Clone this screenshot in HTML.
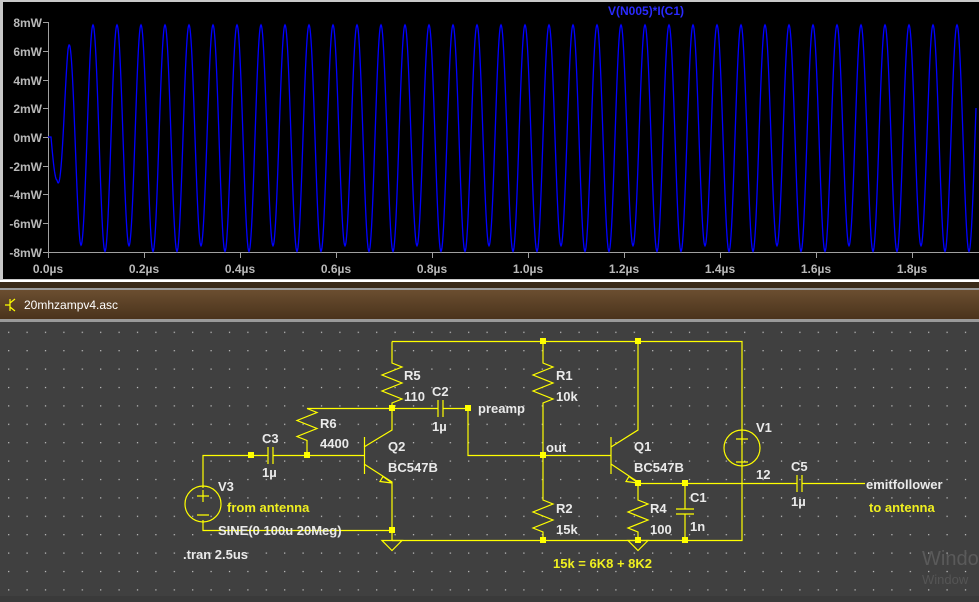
<!DOCTYPE html>
<html><head><meta charset="utf-8"><style>
html,body{margin:0;padding:0;width:979px;height:602px;overflow:hidden;background:#3c3c3c}
svg{display:block}
text{font-family:"Liberation Sans",Arial,sans-serif;font-weight:bold}
</style></head><body>
<svg width="979" height="602" viewBox="0 0 979 602" xmlns="http://www.w3.org/2000/svg">
<defs>
<pattern id="g" x="8.1" y="0.5" width="18.4" height="18.4" patternUnits="userSpaceOnUse">
<rect x="0" y="0" width="1.2" height="1.2" fill="#c8c8c8"/></pattern>
<linearGradient id="tb" x1="0" y1="0" x2="0" y2="1"><stop offset="0" stop-color="#6b4e30"/><stop offset="1" stop-color="#4a331c"/></linearGradient>
</defs>
<rect x="0" y="0" width="979" height="282" fill="#c8c8c8"/>
<rect x="3" y="2" width="976" height="277" fill="#000"/>
<rect x="0" y="280" width="979" height="2" fill="#fff"/>
<rect x="0" y="282" width="979" height="6" fill="#3a2a18"/>
<rect x="0" y="288" width="979" height="2" fill="#9a9a9a"/>
<rect x="0" y="290" width="979" height="29" fill="url(#tb)"/>
<rect x="0" y="319" width="979" height="3" fill="#9a9a9a"/>
<rect x="0" y="322" width="979" height="280" fill="#404040"/>
<rect x="0" y="322" width="979" height="280" fill="url(#g)"/>
<rect x="0" y="596" width="979" height="6" fill="#3a3a3a"/>
<g stroke="#a0a0a0" stroke-width="1" fill="none">
<path d="M48.5 22 V252.5 H979"/>
<path d="M43 22.5h5M43 51.5h5M43 80.5h5M43 108.5h5M43 137.5h5M43 166.5h5M43 194.5h5M43 223.5h5M43 252.5h5"/>
<path d="M48.5 252v6M144.5 252v6M240.5 252v6M336.5 252v6M432.5 252v6M528.5 252v6M624.5 252v6M720.5 252v6M816.5 252v6M912.5 252v6"/>
</g>
<g fill="#b8b8b8" font-size="12" text-anchor="end">
<text x="42" y="27">8mW</text><text x="42" y="56">6mW</text><text x="42" y="85">4mW</text><text x="42" y="113">2mW</text><text x="42" y="142">0mW</text><text x="42" y="171">-2mW</text><text x="42" y="199">-4mW</text><text x="42" y="228">-6mW</text><text x="42" y="257">-8mW</text>
</g>
<g fill="#b8b8b8" font-size="12" text-anchor="middle">
<text x="48" y="273">0.0µs</text><text x="144" y="273">0.2µs</text><text x="240" y="273">0.4µs</text><text x="336" y="273">0.6µs</text><text x="432" y="273">0.8µs</text><text x="528" y="273">1.0µs</text><text x="624" y="273">1.2µs</text><text x="720" y="273">1.4µs</text><text x="816" y="273">1.6µs</text><text x="912" y="273">1.8µs</text>
</g>
<text x="608" y="15" fill="#2a2aff" font-size="12">V(N005)*I(C1)</text>
<path id="wave" fill="none" stroke="#0000ff" stroke-width="1.3"/>
<text x="24" y="309" fill="#ffffff" font-size="12" style="font-weight:normal">20mhzampv4.asc</text>
<g stroke="#ffff00" stroke-width="1.2" fill="none"><path d="M10 299v12M10 303l5-4M10 307l5 4M5 305h5"/></g>
<g stroke="#ffff00" stroke-width="1.2" fill="none">
<path d="M392 341.5H742V540.5H392"/>
<path d="M392 341.5V363l10 4-20 8 20 8-20 8 20 8-10 4V408.5"/>
<path d="M307 408.5H438M443 408.5H468V455.5H543"/>
<path d="M438 400v17M443 400v17"/>
<path d="M307 408.5l10 4-20 8 20 8-20 8 10 4V455.5"/>
<path d="M203 488V455.5H268M273 455.5H364"/>
<path d="M268 447v17M273 447v17"/>
<circle cx="203" cy="504" r="18"/>
<path d="M197 496h12M203 490v12M197 515h12"/>
<path d="M203 520V530.5H392"/>
<path d="M364.5 437v37M364 447l28-17V408.5M364 464l28 18V540.5"/>
<path d="M392 483l-12-1.5 3-5z"/>
<path d="M382 540.5h20l-10 10z"/>
<path d="M543 341.5V363l10 4-20 8 20 8-20 8 20 8-10 4V500l10 4-20 8 20 8-20 8 10 4V540.5"/>
<path d="M543 455.5H611"/>
<path d="M611 437v37M611 447l27-17V341.5M611 464l27 18V500l10 4-20 8 20 8-20 8 10 4V540.5"/>
<path d="M638 483l-12-1.5 3-5z"/>
<path d="M628 540.5h20l-10 10z"/>
<path d="M638 483.5H797M802 483.5H865"/>
<path d="M797 475v17M802 475v17"/>
<path d="M685 483.5V509M676 509h18M676 514h18M685 514V540.5"/>
<circle cx="742" cy="448" r="18"/>
<path d="M736 439h12M742 433v12M736 462h12"/>
</g>
<g fill="#ffff00">
<rect x="540" y="338" width="6" height="6"/><rect x="635" y="338" width="6" height="6"/>
<rect x="389" y="405" width="6" height="6"/><rect x="465" y="405" width="6" height="6"/>
<rect x="540" y="452" width="6" height="6"/><rect x="248" y="452" width="6" height="6"/>
<rect x="304" y="452" width="6" height="6"/><rect x="389" y="527" width="6" height="6"/>
<rect x="540" y="537" width="6" height="6"/><rect x="635" y="537" width="6" height="6"/>
<rect x="682" y="537" width="6" height="6"/><rect x="635" y="480" width="6" height="6"/>
<rect x="682" y="480" width="6" height="6"/>
</g>
<g fill="#eaeaea" font-size="13">
<text x="404" y="380">R5</text><text x="404" y="401">110</text>
<text x="432" y="396">C2</text><text x="432" y="431">1µ</text>
<text x="478" y="413">preamp</text>
<text x="320" y="428">R6</text><text x="320" y="448">4400</text>
<text x="262" y="443">C3</text><text x="262" y="477">1µ</text>
<text x="388" y="451">Q2</text><text x="388" y="472">BC547B</text>
<text x="218" y="491">V3</text>
<text x="218" y="535">SINE(0 100u 20Meg)</text>
<text x="183" y="559">.tran 2.5us</text>
<text x="556" y="380">R1</text><text x="556" y="401">10k</text>
<text x="546" y="452">out</text>
<text x="556" y="513">R2</text><text x="556" y="534">15k</text>
<text x="634" y="451">Q1</text><text x="634" y="472">BC547B</text>
<text x="650" y="513">R4</text><text x="650" y="534">100</text>
<text x="690" y="502">C1</text><text x="690" y="531">1n</text>
<text x="756" y="432">V1</text><text x="756" y="479">12</text>
<text x="791" y="471">C5</text><text x="791" y="506">1µ</text>
<text x="866" y="489">emitfollower</text>
</g>
<g fill="#f0f020" font-size="13">
<text x="227" y="512">from antenna</text>
<text x="869" y="512">to antenna</text>
<text x="553" y="568">15k = 6K8 + 8K2</text>
</g>
<text x="922" y="565" fill="#5a5a5a" font-size="20" style="font-weight:normal">Windo</text>
<text x="922" y="584" fill="#555" font-size="13" style="font-weight:normal">Window</text>
</svg>
<script>
(function(){
var d="M48 137";
for(var x=48;x<=976;x+=0.5){
 var v=0;
 if(x>51){
  var A;
  if(x<57)A=3;else if(x<68)A=3+(x-57)/11*3.3;else if(x<80)A=6.3+(x-68)/12*1.2;else if(x<92)A=7.5+(x-80)/12*0.3;else A=7.8;
  var ph=(x-51)/24*2*Math.PI;
  v=-A*Math.sin(ph);
  if(x>92&&v<0){v*= (Math.floor((x-51)/24)%3==0)?0.97:1.02;}
 }
 var y=137-v*14.375;
 if(y>252)y=252;if(y<22)y=22;
 d+=" L"+x+" "+y.toFixed(1);
}
document.getElementById("wave").setAttribute("d",d);
})();
</script>
</body></html>
